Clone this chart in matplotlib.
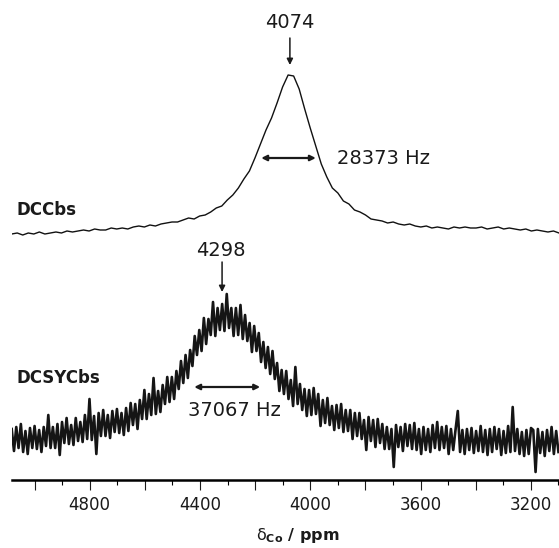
import numpy as np
import matplotlib.pyplot as plt

# 59Co NMR spectra, intensities in arbitrary units
ppm_top = np.linspace(5083, 3098, 100)
dccbs = [0, 1, -1, 1, 0, 2, 0, 1, 2, 1,
         3, 2, 3, 4, 3, 5, 4, 4, 6, 5,
         6, 5, 7, 8, 7, 9, 8, 10, 11, 12,
         12, 14, 16, 15, 18, 19, 22, 26, 28, 34,
         39, 46, 55, 63, 76, 90, 104, 116, 131, 147,
         159, 158, 145, 125, 106, 88, 70, 57, 46, 41,
         33, 30, 24, 22, 19, 15, 14, 13, 11, 12,
         10, 9, 10, 8, 7, 8, 6, 7, 6, 5,
         7, 6, 7, 6, 6, 7, 5, 6, 7, 5,
         6, 5, 4, 5, 3, 4, 3, 2, 3, 1]

ppm_bottom = np.linspace(5083, 3100, 240)
dcsycbs = [12, -10, 14, -7, 17, -11, 10, -13, 13, -7,
           15, -8, 11, -11, 14, -5, 26, -7, 14, -7,
           17, -14, 19, -2, 23, -3, 16, -4, 23, 0,
           19, -1, 26, 2, 42, 1, 25, -13, 28, 5,
           31, 5, 26, 3, 30, 9, 32, 8, 28, 6,
           33, 10, 38, 16, 37, 12, 41, 22, 51, 22,
           47, 26, 63, 27, 50, 29, 56, 37, 64, 39,
           64, 42, 70, 52, 80, 58, 86, 63, 91, 75,
           105, 86, 111, 90, 123, 97, 122, 106, 139, 105,
           133, 111, 137, 110, 147, 113, 133, 105, 133, 106,
           136, 102, 126, 100, 118, 89, 115, 90, 108, 79,
           99, 73, 94, 67, 90, 62, 78, 50, 71, 47,
           70, 42, 61, 35, 74, 37, 57, 31, 52, 25,
           51, 26, 53, 27, 47, 15, 41, 18, 43, 16,
           35, 11, 36, 13, 37, 9, 31, 10, 31, 2,
           28, 5, 28, 2, 21, -9, 24, 0, 21, -6,
           22, -2, 17, -8, 14, -8, 12, -26, 16, -6,
           14, -10, 17, -5, 16, -8, 18, -9, 12, -13,
           14, -9, 12, -11, 16, -7, 19, -9, 14, -7,
           15, -13, 12, -9, 11, 30, -11, 11, -13, 12,
           -9, 13, -12, 10, -10, 15, -11, 11, -14, 12,
           -11, 14, -8, 12, -14, 10, -12, 15, -11, 34,
           -10, 12, -13, 9, -15, 11, -13, 13, 11, -31,
           12, -12, 9, -15, 11, -10, 14, -13, 10, -11]

names = ["DCCbs", "DCSYCbs"]
peak_labels = ["4074", "4298"]
width_labels = ["28373 Hz", "37067 Hz"]
tick_pos = [5000, 4800, 4600, 4400, 4200, 4000, 3800, 3600, 3400, 3200]
tick_labels = ["", "4800", "", "4400", "", "4000", "", "3600", "", "3200"]

# vertical offsets of the stacked traces
top_off = 246
bot_off = 39

fig = plt.figure(figsize=(5.59, 5.48), dpi=100)
ax = fig.add_axes([11.7 / 559, 68 / 548, 547.3 / 559, 480 / 548])

ax.plot(ppm_top, np.array(dccbs) + top_off, color='#111111', lw=1.0)
ax.plot(ppm_bottom, np.array(dcsycbs) + bot_off, color='#151515', lw=1.9)

ax.set_xlim(5083, 3098)
ax.set_ylim(0, 480)

# trace names
ax.text(5067, 270, names[0], fontsize=12, fontweight='bold', va='center', ha='left', color='#1a1a1a')
ax.text(5067, 102, names[1], fontsize=12, fontweight='bold', va='center', ha='left', color='#1a1a1a')

# peak arrows
arrow_kw = dict(arrowstyle='-|>', color='#1a1a1a', lw=1.1, mutation_scale=9, shrinkA=0, shrinkB=0)
ax.annotate("", xy=(4074, 415), xytext=(4074, 442), arrowprops=arrow_kw)
ax.text(4074, 457, peak_labels[0], fontsize=14, ha='center', va='center', color='#1a1a1a')
ax.annotate("", xy=(4320, 188), xytext=(4320, 218), arrowprops=arrow_kw)
ax.text(4323, 230, peak_labels[1], fontsize=14, ha='center', va='center', color='#1a1a1a')

# line widths
dbl_kw = dict(arrowstyle='<|-|>', color='#1a1a1a', lw=1.6, mutation_scale=8, shrinkA=0, shrinkB=0)
ax.annotate("", xy=(3980, 322), xytext=(4178, 322), arrowprops=dbl_kw)
ax.text(3904, 322, width_labels[0], fontsize=14, ha='left', va='center', color='#1a1a1a')
ax.annotate("", xy=(4182, 93), xytext=(4421, 93), arrowprops=dbl_kw)
ax.text(4276, 69, width_labels[1], fontsize=14, ha='center', va='center', color='#1a1a1a')

for s in ['left', 'right', 'top']:
    ax.spines[s].set_visible(False)
ax.spines['bottom'].set_linewidth(1.8)
ax.set_yticks([])
ax.set_xticks(tick_pos)
ax.set_xticklabels(tick_labels)
ax.set_xticks(np.arange(3100, 5100, 200), minor=True)
ax.tick_params(axis='x', which='major', length=7.2, width=0.8, labelsize=12, pad=4, colors='#1a1a1a')
ax.tick_params(axis='x', which='minor', length=3.6, width=0.8)

ax.set_xlabel(r'$\mathrm{\delta}_{\mathbf{Co}}$ / ppm', fontsize=11.5, fontweight='bold', color='#1a1a1a')
ax.xaxis.set_label_coords(0.523, -0.095)

fig.savefig('out.png', dpi=100)
